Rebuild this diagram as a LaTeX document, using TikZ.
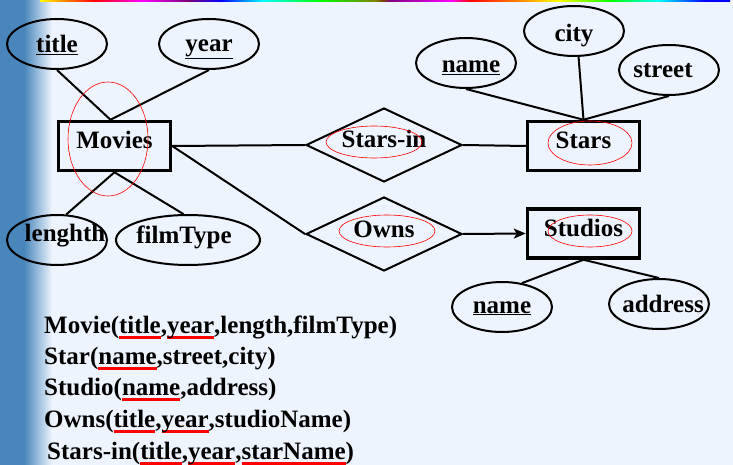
\documentclass[tikz,border=0pt]{standalone}
\usepackage{fontspec}
\setmainfont{Liberation Serif}
\usepackage{xcolor}
\usepackage{tikz}
\usetikzlibrary{shapes.geometric, arrows.meta, positioning, calc}

\definecolor{slidebg}{RGB}{238,244,253}
\definecolor{bandblue}{RGB}{72,134,188}

\newsavebox\keybox
\newcommand{\keyattr}[1]{\sbox\keybox{#1}\rlap{\textcolor{red}{\rule[-6pt]{\wd\keybox}{3pt}}}\usebox\keybox}

\begin{document}
\begin{tikzpicture}[x=1pt, y=-1pt, font=\fontsize{25}{30}\selectfont\bfseries,
    entity/.style={draw, line width=3.5pt, minimum width=112pt, minimum height=49pt, inner sep=0pt, text height=17pt, text depth=11pt},
    attr/.style={draw, ellipse, line width=2pt, minimum width=100pt, minimum height=50pt, inner sep=0pt},
    attrtext/.style={text height=19pt, text depth=4pt, inner sep=0pt},
    rel/.style={draw, diamond, line width=2pt, aspect=2.08, minimum width=156pt, minimum height=74pt, inner sep=0pt, text height=17pt, text depth=11pt},
    ring/.style={draw=red, ellipse, line width=0.6pt, inner sep=0pt},
    link/.style={line width=2pt},
    schema/.style={anchor=base west, inner sep=0pt}]
    \useasboundingbox (0,0) rectangle (733,465);
    \fill[slidebg] (0,0) rectangle (733,465);
    \fill[bandblue] (0,0) rectangle (24,465);
    \shade[left color=bandblue, right color=slidebg] (24,0) rectangle (52,465);
    \foreach \xa/\xb/\ca/\cb in {40/66/yellow/orange, 66/94/orange/red, 94/141/red/magenta,
        141/188/magenta/violet, 188/221/violet/blue, 221/263/blue/cyan, 263/320/cyan/green,
        320/376/green/olive, 376/390/olive/violet, 390/451/violet/magenta, 451/470/magenta/red,
        470/517/red/orange, 517/559/orange/yellow, 559/611/yellow/green, 611/658/green/cyan,
        658/705/cyan/blue, 705/730/blue/blue}
        \shade[left color=\ca, right color=\cb] (\xa,0) rectangle (\xb,2);

    \node[attr, label={[attrtext, yshift=-1pt]center:\underline{title}}] (title) at (57,44) {};
    \node[attr, label={[attrtext]center:\underline{year}}] (year) at (209,44) {};
    \node[entity] (movies) at (114.5,146) {Movies};
    \node[attr, label={[attrtext, xshift=8pt, yshift=6.5pt]center:lenghth}] (lengthh) at (57,240) {};
    \node[attr, minimum width=144pt, label={[attrtext, xshift=-4pt, yshift=4.5pt]center:filmType}] (filmtype) at (188,240) {};

    \node[rel] (starsin) at (384,145) {Stars-in};
    \node[rel] (owns) at (384,234) {Owns};

    \node[entity] (stars) at (583.5,146) {Stars};
    \node[attr, label={[attrtext, xshift=5pt, yshift=-2pt]center:\underline{name}}] (starname) at (466,63) {};
    \node[attr, label={[attrtext, yshift=-3pt]center:city}] (city) at (574,31) {};
    \node[attr, label={[attrtext, xshift=-6pt]center:street}] (street) at (669,70) {};

    \node[entity] (studios) at (583.5,233.5) {Studios};
    \node[attr, label={[attrtext, yshift=1.5pt]center:\underline{name}}] (studioname) at (502,307) {};
    \node[attr, label={[attrtext, xshift=4pt, yshift=-1pt]center:address}] (address) at (659,304) {};

    \draw[link] (title.south) -- ([xshift=-4pt]movies.north);
    \draw[link] (year.south) -- ([xshift=-4pt]movies.north);
    \draw[link] (lengthh.70) -- (movies.south);
    \draw[link] (filmtype.100) -- (movies.south);
    \draw[link] (movies.east) -- (starsin.west);
    \draw[link] (starsin.east) -- (stars.west);
    \draw[link] (movies.east) -- (owns.west);
    \draw[link, -{Stealth[length=12pt, width=10pt, inset=3pt]}] (owns.east) -- (studios.west);
    \draw[link] (starname.south) -- (stars.north);
    \draw[link] (city.-80) -- (stars.north);
    \draw[link] (street.south) -- (stars.north);
    \draw[link] (studios.south) -- (studioname.50);
    \draw[link] (studios.south) -- (address.north);

    \node[ring, minimum width=80pt, minimum height=114pt] (movies-ring) at (108,139) {};
    \node[ring, minimum width=96pt, minimum height=32pt] (starsin-ring) at (374,142) {};
    \node[ring, minimum width=84pt, minimum height=44pt] (stars-ring) at (590,143) {};
    \node[ring, minimum width=96pt, minimum height=32pt] (owns-ring) at (387,231) {};
    \node[ring, minimum width=84pt, minimum height=32pt] (studios-ring) at (590,231) {};

    \node[schema] (movie-rel) at (44,333) {Movie(\keyattr{title},\keyattr{year},length,filmType)};
    \node[schema] (star-rel) at (44,364) {Star(\keyattr{name},street,city)};
    \node[schema] (studio-rel) at (44,395) {Studio(\keyattr{name},address)};
    \node[schema] (owns-rel) at (44,427) {Owns(\keyattr{title},\keyattr{year},studioName)};
    \node[schema] (starsin-rel) at (47,459) {Stars-in(\keyattr{title},\keyattr{year},\keyattr{starName})};
\end{tikzpicture}
\end{document}
